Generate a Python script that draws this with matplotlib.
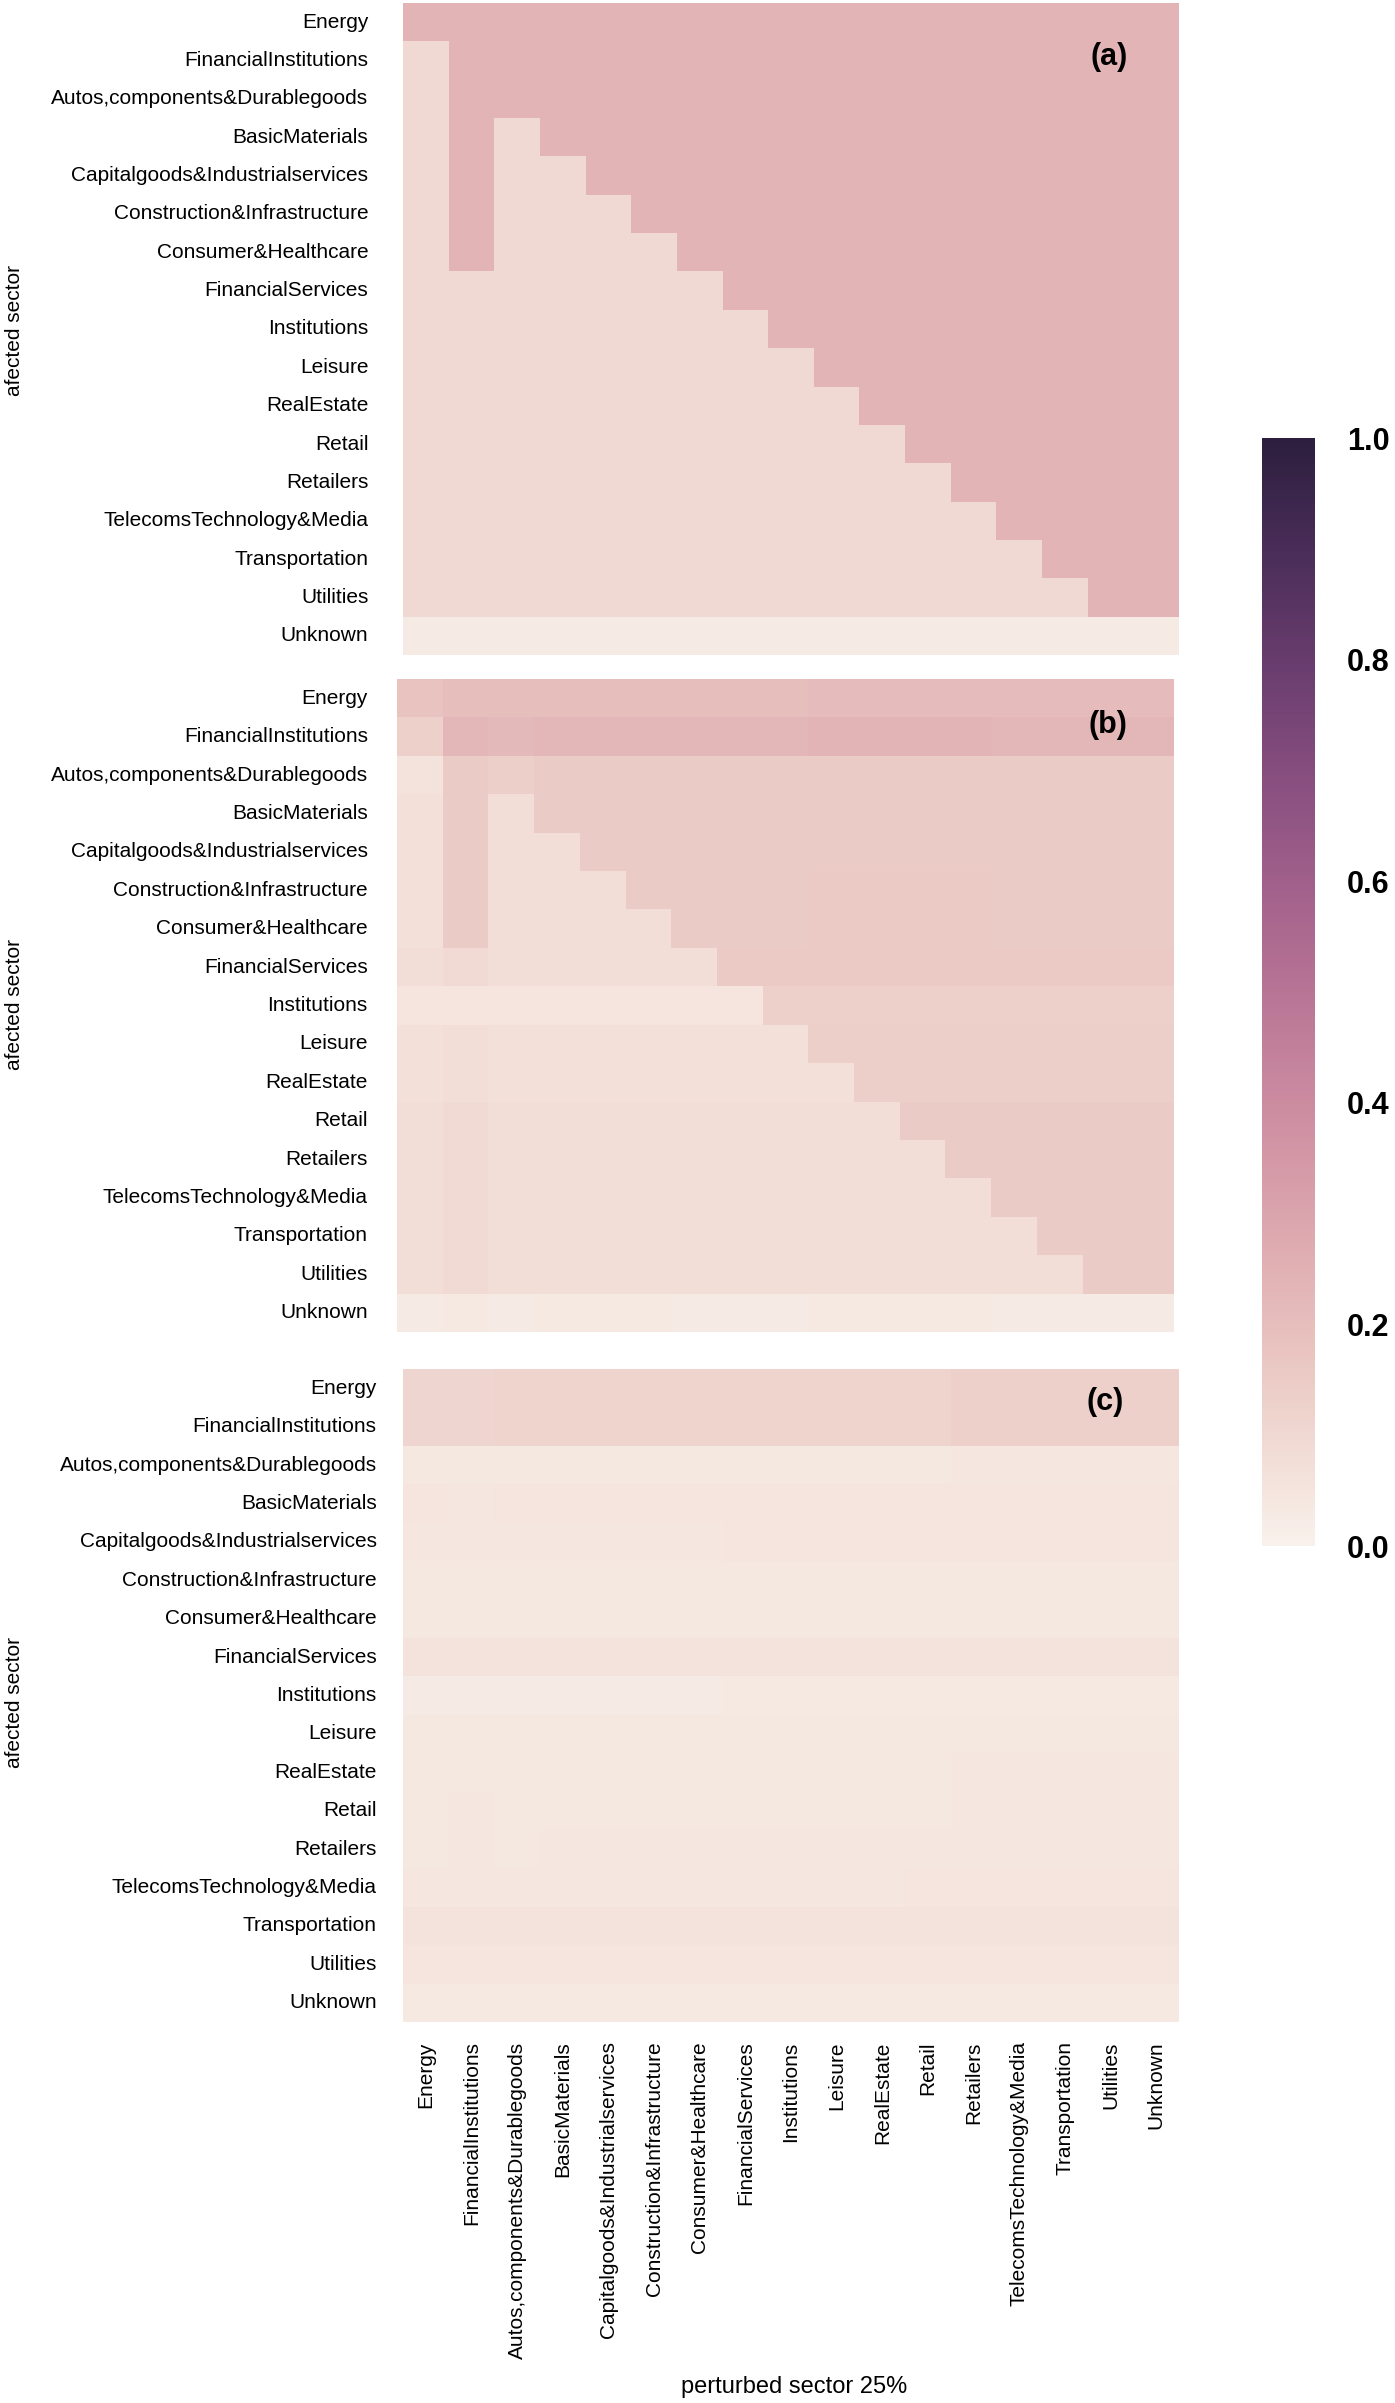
import numpy as np
import pandas as pd
import seaborn as sns
import matplotlib.pyplot as plt

# sector names (rows = affected, columns = perturbed)
sectors = ['Energy', 'FinancialInstitutions', 'Autos,components&Durablegoods',
           'BasicMaterials', 'Capitalgoods&Industrialservices',
           'Construction&Infrastructure', 'Consumer&Healthcare',
           'FinancialServices', 'Institutions', 'Leisure', 'RealEstate',
           'Retail', 'Retailers', 'TelecomsTechnology&Media',
           'Transportation', 'Utilities', 'Unknown']

# ========== values ==========
impact_a = [
    [.24, .24, .24, .24, .24, .24, .24, .24, .24, .24, .24, .24, .24, .24, .24, .24, .24],
    [.10, .24, .24, .24, .24, .24, .24, .24, .24, .24, .24, .24, .24, .24, .24, .24, .24],
    [.10, .24, .24, .24, .24, .24, .24, .24, .24, .24, .24, .24, .24, .24, .24, .24, .24],
    [.10, .24, .10, .24, .24, .24, .24, .24, .24, .24, .24, .24, .24, .24, .24, .24, .24],
    [.10, .24, .10, .10, .24, .24, .24, .24, .24, .24, .24, .24, .24, .24, .24, .24, .24],
    [.10, .24, .10, .10, .10, .24, .24, .24, .24, .24, .24, .24, .24, .24, .24, .24, .24],
    [.10, .24, .10, .10, .10, .10, .24, .24, .24, .24, .24, .24, .24, .24, .24, .24, .24],
    [.10, .10, .10, .10, .10, .10, .10, .24, .24, .24, .24, .24, .24, .24, .24, .24, .24],
    [.10, .10, .10, .10, .10, .10, .10, .10, .24, .24, .24, .24, .24, .24, .24, .24, .24],
    [.10, .10, .10, .10, .10, .10, .10, .10, .10, .24, .24, .24, .24, .24, .24, .24, .24],
    [.10, .10, .10, .10, .10, .10, .10, .10, .10, .10, .24, .24, .24, .24, .24, .24, .24],
    [.10, .10, .10, .10, .10, .10, .10, .10, .10, .10, .10, .24, .24, .24, .24, .24, .24],
    [.10, .10, .10, .10, .10, .10, .10, .10, .10, .10, .10, .10, .24, .24, .24, .24, .24],
    [.10, .10, .10, .10, .10, .10, .10, .10, .10, .10, .10, .10, .10, .24, .24, .24, .24],
    [.10, .10, .10, .10, .10, .10, .10, .10, .10, .10, .10, .10, .10, .10, .24, .24, .24],
    [.10, .10, .10, .10, .10, .10, .10, .10, .10, .10, .10, .10, .10, .10, .10, .24, .24],
    [.03, .03, .03, .03, .03, .03, .03, .03, .03, .03, .03, .03, .03, .03, .03, .03, .03],
]

impact_b = [
    [.18, .20, .20, .20, .20, .20, .20, .20, .20, .21, .21, .21, .21, .21, .21, .21, .21],
    [.13, .23, .22, .23, .23, .23, .23, .23, .23, .24, .24, .24, .24, .23, .23, .23, .23],
    [.06, .15, .14, .15, .15, .15, .15, .15, .15, .15, .15, .15, .15, .15, .15, .15, .15],
    [.07, .15, .08, .15, .15, .15, .15, .15, .15, .15, .15, .15, .15, .15, .15, .15, .15],
    [.07, .15, .08, .08, .15, .15, .15, .15, .15, .15, .15, .15, .15, .15, .15, .15, .15],
    [.07, .15, .08, .08, .08, .15, .15, .15, .15, .16, .16, .16, .16, .15, .15, .15, .15],
    [.07, .15, .08, .08, .08, .08, .15, .15, .15, .16, .16, .16, .16, .15, .15, .15, .15],
    [.08, .09, .08, .08, .08, .08, .08, .16, .16, .16, .16, .16, .16, .16, .16, .16, .16],
    [.05, .05, .05, .05, .05, .05, .05, .05, .13, .13, .13, .13, .13, .13, .13, .13, .13],
    [.07, .08, .07, .07, .07, .07, .07, .07, .07, .14, .14, .14, .14, .14, .14, .14, .14],
    [.07, .08, .07, .07, .07, .07, .07, .07, .07, .07, .14, .14, .14, .14, .14, .14, .14],
    [.08, .09, .08, .08, .08, .08, .08, .08, .08, .08, .08, .15, .15, .15, .15, .15, .15],
    [.08, .09, .08, .08, .08, .08, .08, .08, .08, .08, .08, .08, .15, .15, .15, .15, .15],
    [.08, .09, .08, .08, .08, .08, .08, .08, .08, .08, .08, .08, .08, .15, .15, .15, .15],
    [.08, .09, .08, .08, .08, .08, .08, .08, .08, .08, .08, .08, .08, .08, .15, .15, .15],
    [.08, .09, .08, .08, .08, .08, .08, .08, .08, .08, .08, .08, .08, .08, .08, .15, .15],
    [.03, .035, .03, .035, .035, .035, .03, .03, .03, .035, .035, .035, .035, .03, .03, .03, .03],
]

impact_c = [
    [.11, .11, .12, .12, .12, .12, .12, .12, .12, .12, .12, .12, .13, .13, .13, .13, .13],
    [.11, .11, .12, .12, .12, .12, .12, .12, .12, .12, .12, .12, .13, .13, .13, .13, .13],
    [.04, .04, .04, .04, .04, .04, .04, .04, .04, .04, .04, .04, .045, .045, .045, .045, .045],
    [.05, .045, .05, .05, .05, .05, .05, .05, .05, .05, .05, .05, .05, .05, .05, .05, .05],
    [.045, .045, .045, .045, .045, .045, .045, .05, .05, .05, .05, .05, .05, .05, .05, .05, .05],
    [.04, .04, .04, .04, .04, .04, .04, .04, .04, .04, .04, .04, .04, .04, .04, .04, .04],
    [.04, .04, .04, .04, .04, .04, .04, .04, .04, .04, .04, .04, .04, .04, .04, .04, .04],
    [.055, .06, .06, .06, .06, .055, .055, .055, .055, .055, .055, .055, .055, .055, .055, .055, .055],
    [.03, .03, .03, .03, .03, .03, .03, .035, .035, .035, .035, .035, .035, .035, .035, .035, .035],
    [.04, .04, .04, .04, .04, .04, .04, .04, .04, .04, .04, .04, .04, .04, .04, .04, .04],
    [.04, .04, .04, .04, .04, .04, .04, .04, .04, .04, .04, .04, .045, .045, .045, .045, .045],
    [.04, .045, .04, .04, .04, .04, .04, .04, .04, .04, .04, .04, .045, .045, .045, .045, .045],
    [.04, .045, .04, .045, .045, .045, .045, .045, .045, .045, .045, .045, .045, .045, .045, .045, .045],
    [.045, .045, .045, .045, .045, .045, .045, .045, .045, .045, .045, .05, .05, .05, .05, .05, .05],
    [.055, .055, .055, .055, .055, .055, .055, .055, .055, .055, .055, .055, .055, .055, .055, .055, .055],
    [.05, .05, .05, .05, .05, .05, .05, .05, .05, .05, .05, .05, .05, .05, .05, .05, .05],
    [.035, .035, .035, .035, .035, .035, .035, .035, .035, .035, .035, .035, .035, .035, .035, .035, .035],
]

panel_tags = ['(a)', '(b)', '(c)']

plt.rcParams['font.family'] = ['Liberation Sans', 'DejaVu Sans']

fig = plt.figure(figsize=(13.95, 24.03), dpi=100)
W, H = 1395.0, 2403.0

# panel boxes in pixels: left, top, right, bottom
boxes = [(403, 3, 1179, 655), (397, 679, 1174, 1332), (403, 1369, 1179, 2022)]
ylab_pad = [25, 21, 19]
ylab_y = [330, 1004, 1702]
tag_pos = [(0.91, 0.917), (0.915, 0.93), (0.905, 0.95)]

cax = fig.add_axes([1262 / W, 1 - 1546 / H, 53 / W, 1108 / H])
cmap = sns.cubehelix_palette(light=0.95, as_cmap=True)

for i, data in enumerate([impact_a, impact_b, impact_c]):
    l, t, r, b = boxes[i]
    ax = fig.add_axes([l / W, 1 - b / H, (r - l) / W, (b - t) / H])
    df = pd.DataFrame(data, index=sectors, columns=sectors)
    sns.heatmap(df, ax=ax, cmap=cmap, vmin=0, vmax=1,
                cbar=(i == 0), cbar_ax=cax if i == 0 else None,
                xticklabels=(i == 2), yticklabels=True)
    ax.set_yticks(np.arange(len(sectors)) + 0.5)
    ax.set_yticklabels(sectors, rotation=0, fontsize=15)
    ax.tick_params(axis='y', length=0, pad=ylab_pad[i])
    if i == 2:
        ax.set_xticks(np.arange(len(sectors)) + 0.5)
        ax.set_xticklabels(sectors, rotation=90, fontsize=15)
        ax.tick_params(axis='x', length=0, pad=14)
    else:
        ax.set_xticks([])
    ax.set_xlabel('')
    ax.set_ylabel('')
    fig.text(15 / W, 1 - ylab_y[i] / H, 'afected sector', rotation=90,
             ha='center', va='center', fontsize=15)
    ax.text(tag_pos[i][0], tag_pos[i][1], panel_tags[i], transform=ax.transAxes,
            ha='center', va='center', fontsize=22, fontweight='bold')

cax.tick_params(length=0, labelsize=22, pad=23)
cax.set_yticks([0, 0.2, 0.4, 0.6, 0.8, 1.0])
cax.set_yticklabels(['0.0', '0.2', '0.4', '0.6', '0.8', '1.0'], fontweight='bold')
for s in cax.spines.values():
    s.set_visible(False)

fig.text(794 / W, 1 - 2387 / H, 'perturbed sector 25%', ha='center', va='center',
         fontsize=17)

fig.savefig('out.png', dpi=100)
